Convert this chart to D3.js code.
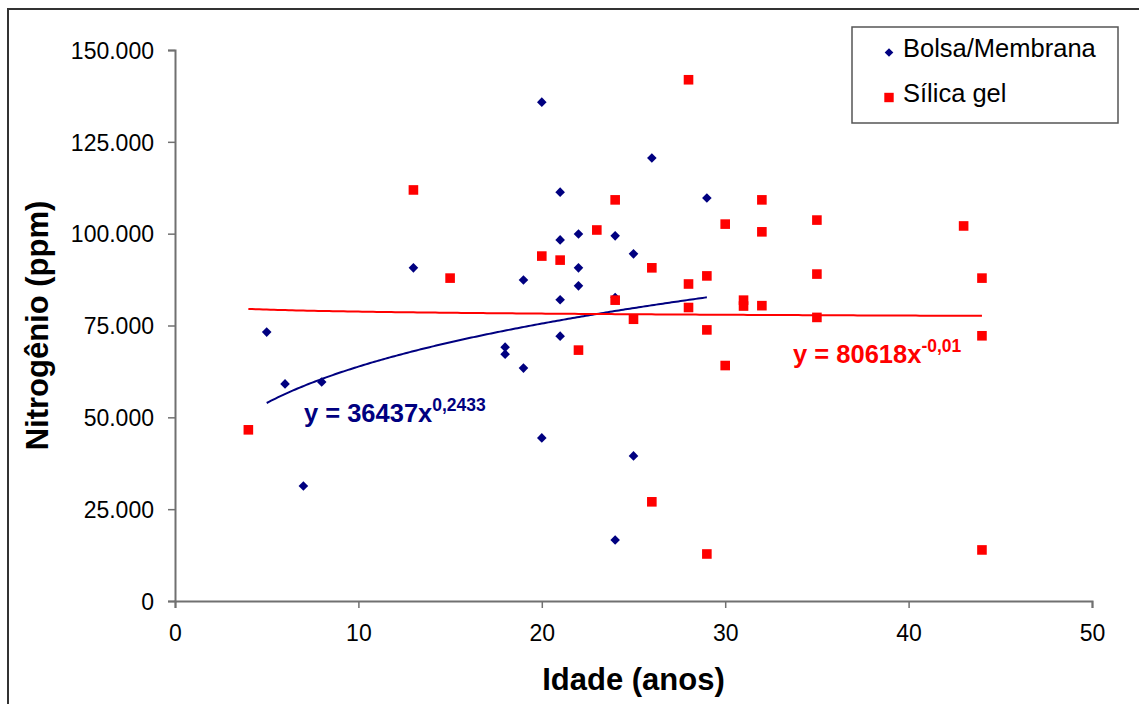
<!DOCTYPE html>
<html>
<head>
<meta charset="utf-8">
<script src="https://cdn.jsdelivr.net/npm/d3@7"></script>
<style>
  html, body { margin: 0; padding: 0; background: #fff; }
  svg { display: block; }
  text { font-family: "Liberation Sans", Arial, sans-serif; }
</style>
</head>
<body>
<svg id="chart" width="1139" height="704"></svg>
<script>
// ---- Data ----
const bolsaX = [5, 6, 7, 8, 13, 18, 18, 19, 19, 20, 20, 21, 21, 21, 21, 22, 22, 22, 24, 24, 24, 25, 25, 26, 29];
const bolsaY = [73200, 59100, 31300, 59600, 90700, 69100, 67200, 87400, 63400, 135800, 44400, 111300, 98300, 82000, 72100, 99900, 90700, 85800, 99400, 82600, 16600, 94500, 39500, 120600, 109700];

const silicaX = [4, 13, 15, 20, 21, 22, 23, 24, 24, 25, 26, 26, 28, 28, 28, 29, 29, 29, 30, 30, 31, 31, 32, 32, 32, 35, 35, 35, 43, 44, 44, 44];
const silicaY = [46600, 111900, 87900, 93900, 92800, 68300, 101000, 109200, 81900, 76700, 90700, 27000, 141900, 86300, 79900, 88500, 73800, 12800, 102600, 64100, 81900, 80300, 109200, 100500, 80400, 103700, 89000, 77200, 102100, 87900, 72200, 13900];

const seriesNames = ["Bolsa/Membrana", "Sílica gel"];
// Power trendlines y = a * x^b (from the chart's equations)
const fitA = [36437, 80618];
const fitB = [0.2433, -0.01];
const fitLabelA = ["36437", "80618"];
const fitLabelB = ["0,2433", "-0,01"];

const xTicks = [0, 10, 20, 30, 40, 50];
const yTicks = [0, 25000, 50000, 75000, 100000, 125000, 150000];

// ---- Layout ----
const svg = d3.select("#chart");
const colors = ["#000080", "#FF0000"];
const plot = { left: 175, right: 1092, top: 50, bottom: 601 };

const x = d3.scaleLinear().domain([0, 50]).range([plot.left, plot.right]);
const y = d3.scaleLinear().domain([0, 150000]).range([plot.bottom, plot.top]);

const ptLocale = d3.formatLocale({ decimal: ",", thousands: ".", grouping: [3], currency: ["", ""] });
const fmt = ptLocale.format(",");

// outer frame
svg.append("rect").attr("x", 8).attr("y", 9).attr("width", 1200).attr("height", 800)
  .attr("fill", "none").attr("stroke", "#333").attr("stroke-width", 2);

// axes
const axisColor = "#707070";
const yAxis = svg.append("g").attr("transform", `translate(${plot.left},0)`)
  .call(d3.axisLeft(y).tickValues(yTicks).tickSize(7).tickPadding(14).tickFormat(d => fmt(d)));
const xAxis = svg.append("g").attr("transform", `translate(0,${plot.bottom})`)
  .call(d3.axisBottom(x).tickValues(xTicks).tickSize(7).tickPadding(16).tickFormat(d3.format("d")));
[xAxis, yAxis].forEach(g => {
  g.select(".domain").attr("stroke", axisColor).attr("stroke-width", 2);
  g.selectAll(".tick line").attr("stroke", axisColor).attr("stroke-width", 1.5);
  g.selectAll(".tick text").attr("fill", "#000").attr("font-size", 23)
    .style("font-family", '"Liberation Sans", Arial, sans-serif');
});
yAxis.selectAll(".tick text").attr("dy", "0.36em");
xAxis.selectAll(".tick text").attr("dy", "0.75em");

// axis titles
svg.append("text").attr("x", (plot.left + plot.right) / 2).attr("y", 690)
  .attr("text-anchor", "middle").attr("font-size", 31).attr("font-weight", "bold")
  .text("Idade (anos)");
svg.append("text").attr("transform", `translate(48,${(plot.top + plot.bottom) / 2}) rotate(-90)`)
  .attr("text-anchor", "middle").attr("font-size", 31).attr("font-weight", "bold")
  .text("Nitrogênio (ppm)");

// trendlines
const line = d3.line().x(d => x(d[0])).y(d => y(d[1]));
const series = [
  { xs: bolsaX, ys: bolsaY },
  { xs: silicaX, ys: silicaY }
];
series.forEach((s, i) => {
  const xmin = d3.min(s.xs), xmax = d3.max(s.xs);
  const pts = d3.range(xmin, xmax + 0.001, (xmax - xmin) / 200).map(v => [v, fitA[i] * Math.pow(v, fitB[i])]);
  svg.append("path").datum(pts).attr("d", line).attr("fill", "none")
    .attr("stroke", colors[i]).attr("stroke-width", 2);
});

// markers
const diamond = r => `M0,${-r}L${r},0L0,${r}L${-r},0Z`;
svg.append("g").selectAll("path").data(d3.zip(bolsaX, bolsaY)).join("path")
  .attr("transform", d => `translate(${x(d[0])},${y(d[1])})`)
  .attr("d", diamond(4.8)).attr("fill", colors[0]);
const sq = 9.6;
svg.append("g").selectAll("rect").data(d3.zip(silicaX, silicaY)).join("rect")
  .attr("x", d => x(d[0]) - sq / 2).attr("y", d => y(d[1]) - sq / 2)
  .attr("width", sq).attr("height", sq).attr("fill", colors[1]);

// equation labels (anchored in data units)
const eqAnchors = [[7.03, 48700], [33.7, 64700]];
eqAnchors.forEach((a, i) => {
  const t = svg.append("text").attr("x", x(a[0])).attr("y", y(a[1]))
    .attr("font-size", 25.5).attr("font-weight", "bold").attr("fill", colors[i]);
  t.append("tspan").text(`y = ${fitLabelA[i]}x`);
  t.append("tspan").attr("font-size", 17.5).attr("dy", -11.5).text(fitLabelB[i]);
});

// legend
const lg = svg.append("g");
lg.append("rect").attr("x", 852).attr("y", 27).attr("width", 266).attr("height", 96)
  .attr("fill", "#fff").attr("stroke", "#555").attr("stroke-width", 1.5);
seriesNames.forEach((name, i) => {
  const cy = 52.5 + i * 45;
  if (i === 0) {
    lg.append("path").attr("transform", `translate(889,${cy})`).attr("d", diamond(4.3)).attr("fill", colors[0]);
  } else {
    lg.append("rect").attr("x", 889 - 4.7).attr("y", cy - 4.7).attr("width", 9.4).attr("height", 9.4).attr("fill", colors[1]);
  }
  lg.append("text").attr("x", 903).attr("y", cy + 4.5).attr("font-size", 25.5).attr("fill", "#000").text(name);
});
</script>
</body>
</html>
